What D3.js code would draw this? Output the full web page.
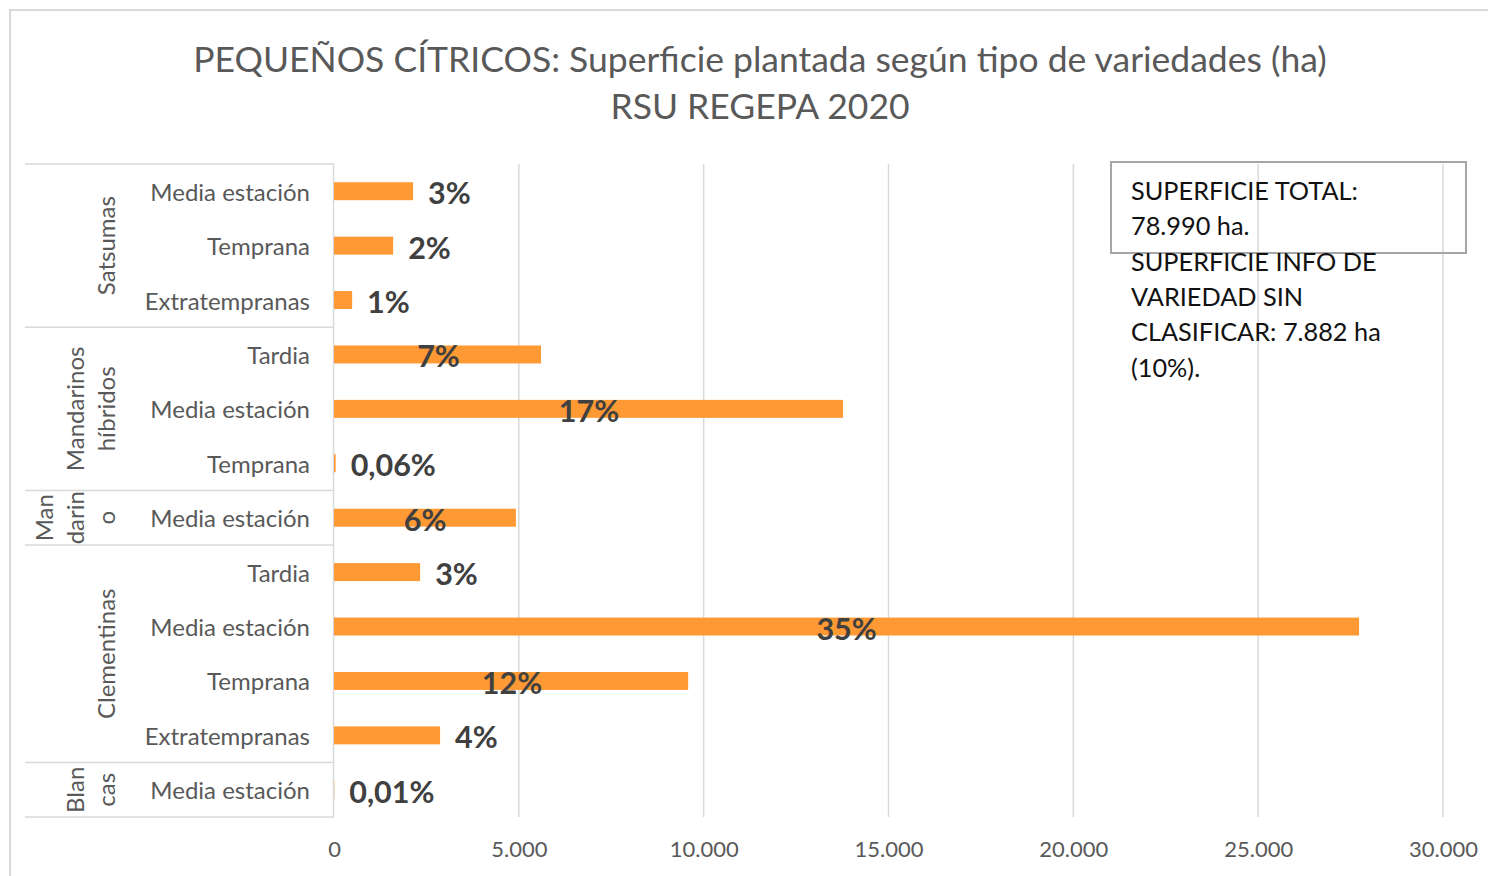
<!DOCTYPE html>
<html>
<head>
<meta charset="utf-8">
<script src="https://cdn.jsdelivr.net/npm/d3@7"></script>
<style>
  body { margin: 0; background: #fff; }
  svg { display: block; font-family: Lato, "Open Sans", sans-serif; }
</style>
</head>
<body>
<div id="chart"></div>
<script>
// row labels (top to bottom) and the group each one belongs to
var varieties = ["Media estación", "Temprana", "Extratempranas",
                 "Tardia", "Media estación", "Temprana",
                 "Media estación",
                 "Tardia", "Media estación", "Temprana", "Extratempranas",
                 "Media estación"]
var groupOf = ["Satsumas", "Satsumas", "Satsumas",
               "Mandarinos híbridos", "Mandarinos híbridos", "Mandarinos híbridos",
               "Mandarino",
               "Clementinas", "Clementinas", "Clementinas", "Clementinas",
               "Blancas"]
// group names are wrapped like in the original
var groupLines = {
  "Satsumas": ["Satsumas"],
  "Mandarinos híbridos": ["Mandarinos", "híbridos"],
  "Mandarino": ["Man", "darin", "o"],
  "Clementinas": ["Clementinas"],
  "Blancas": ["Blan", "cas"]
}
// hectares
var hectares = [2140, 1600, 490, 5600, 13770, 45, 4920, 2330, 27730, 9580, 2870, 8]
var pctLabels = ["3%", "2%", "1%", "7%", "17%", "0,06%", "6%", "3%", "35%", "12%", "4%", "0,01%"]
// where the label starts (ha) when it sits on top of the bar, null = after bar end
var labelAt = [null, null, null, 2250, 6080, null, 1890, null, 13050, 4000, null, null]
var xTicks = [0, 5000, 10000, 15000, 20000, 25000, 30000]

var titleLines = ["PEQUEÑOS CÍTRICOS: Superficie plantada según tipo de variedades (ha)", "RSU REGEPA 2020"]
var noteLines = ["SUPERFICIE TOTAL:", "78.990 ha.", "SUPERFICIE INFO DE", "VARIEDAD SIN", "CLASIFICAR: 7.882 ha", "(10%)."]

var W = 1488, H = 876
var plot = {left: 334, right: 1443, top: 164, bottom: 817}

var es = d3.formatLocale({decimal: ",", thousands: ".", grouping: [3], currency: ["", " €"]})
var fmt = es.format(",")

var svg = d3.select("#chart").append("svg")
  .attr("width", W)
  .attr("height", H)

// chart border (runs off the right / bottom edge like the original)
svg.append("rect")
  .attr("x", 10).attr("y", 10)
  .attr("width", W + 20).attr("height", H + 20)
  .attr("fill", "none")
  .attr("stroke", "#d9d9d9")
  .attr("stroke-width", 2)

// title
svg.append("g").selectAll("text")
  .data(titleLines)
  .enter().append("text")
    .attr("x", 760)
    .attr("y", function(d, i) { return 58 + i * 47 })
    .attr("text-anchor", "middle")
    .attr("dominant-baseline", "central")
    .attr("fill", "#595959")
    .style("font-size", "35.5px")
    .text(function(d) { return d })

var x = d3.scaleLinear()
  .domain([0, 30000])
  .range([plot.left, plot.right])

var y = d3.scaleBand()
  .domain(d3.range(varieties.length))
  .range([plot.top, plot.bottom])
  .paddingInner(0.67)
  .paddingOuter(0.335)

var step = y.step()

// vertical gridlines
svg.append("g").selectAll("line")
  .data(xTicks.slice(1))
  .enter().append("line")
    .attr("x1", function(d) { return x(d) })
    .attr("x2", function(d) { return x(d) })
    .attr("y1", plot.top)
    .attr("y2", plot.bottom)
    .attr("stroke", "#d9d9d9")
    .attr("stroke-width", 1.5)

// x axis labels
var xAxis = svg.append("g")
  .attr("transform", "translate(0," + (plot.bottom + 24) + ")")
  .call(d3.axisBottom(x).tickValues(xTicks).tickFormat(fmt).tickSize(0).tickPadding(0))
xAxis.select(".domain").remove()
xAxis.selectAll("text")
  .attr("fill", "#595959")
  .attr("dy", "0.71em")
  .style("font-size", "22px")
  .style("font-family", "Lato, sans-serif")

// group boundaries for the two-level category axis
var groups = []
groupOf.forEach(function(g, i) {
  if (!groups.length || groups[groups.length - 1].name != g) groups.push({name: g, start: i, end: i})
  else groups[groups.length - 1].end = i
})

var sepY = [plot.top].concat(groups.map(function(g) { return plot.top + (g.end + 1) * step }))
svg.append("g").selectAll("line")
  .data(sepY)
  .enter().append("line")
    .attr("x1", 25)
    .attr("x2", plot.left)
    .attr("y1", function(d) { return d })
    .attr("y2", function(d) { return d })
    .attr("stroke", "#d9d9d9")
    .attr("stroke-width", 1.5)

// category axis line
svg.append("line")
  .attr("x1", plot.left - 0.5).attr("x2", plot.left - 0.5)
  .attr("y1", plot.top).attr("y2", plot.bottom)
  .attr("stroke", "#d9d9d9")
  .attr("stroke-width", 1.5)

// variety labels
svg.append("g").selectAll("text")
  .data(varieties)
  .enter().append("text")
    .attr("x", 310)
    .attr("y", function(d, i) { return y(i) + y.bandwidth() / 2 })
    .attr("text-anchor", "end")
    .attr("dominant-baseline", "central")
    .attr("fill", "#595959")
    .style("font-size", "24px")
    .text(function(d) { return d })

// group labels, rotated
groups.forEach(function(g) {
  var cy = plot.top + (g.start + g.end + 1) / 2 * step
  var lines = groupLines[g.name]
  lines.forEach(function(line, k) {
    var cx = 105 - (lines.length - 1 - k) * 31
    svg.append("text")
      .attr("transform", "translate(" + cx + "," + cy + ") rotate(-90)")
      .attr("text-anchor", "middle")
      .attr("dominant-baseline", "central")
      .attr("fill", "#595959")
      .style("font-size", "24px")
      .text(line)
  })
})

// bars
svg.append("g").selectAll("rect")
  .data(hectares)
  .enter().append("rect")
    .attr("x", x(0))
    .attr("y", function(d, i) { return y(i) })
    .attr("width", function(d) { return Math.max(x(d) - x(0), 0) })
    .attr("height", y.bandwidth())
    .attr("fill", "#ff9933")

// data labels
svg.append("g").selectAll("text")
  .data(hectares)
  .enter().append("text")
    .attr("x", function(d, i) { return labelAt[i] != null ? x(labelAt[i]) : x(d) + 15 })
    .attr("y", function(d, i) { return y(i) + y.bandwidth() / 2 + 1 })
    .attr("dominant-baseline", "central")
    .attr("fill", "#404040")
    .style("font-size", "30.5px")
    .style("font-weight", "bold")
    .text(function(d, i) { return pctLabels[i] })

// note box
svg.append("rect")
  .attr("x", 1111).attr("y", 162)
  .attr("width", 355).attr("height", 91)
  .attr("fill", "none")
  .attr("stroke", "#a6a6a6")
  .attr("stroke-width", 2)

svg.append("g").selectAll("text")
  .data(noteLines)
  .enter().append("text")
    .attr("x", 1131)
    .attr("y", function(d, i) { return 190 + i * 35.3 })
    .attr("dominant-baseline", "central")
    .attr("fill", "#111")
    .style("font-size", "25.3px")
    .text(function(d) { return d })
</script>
</body>
</html>
